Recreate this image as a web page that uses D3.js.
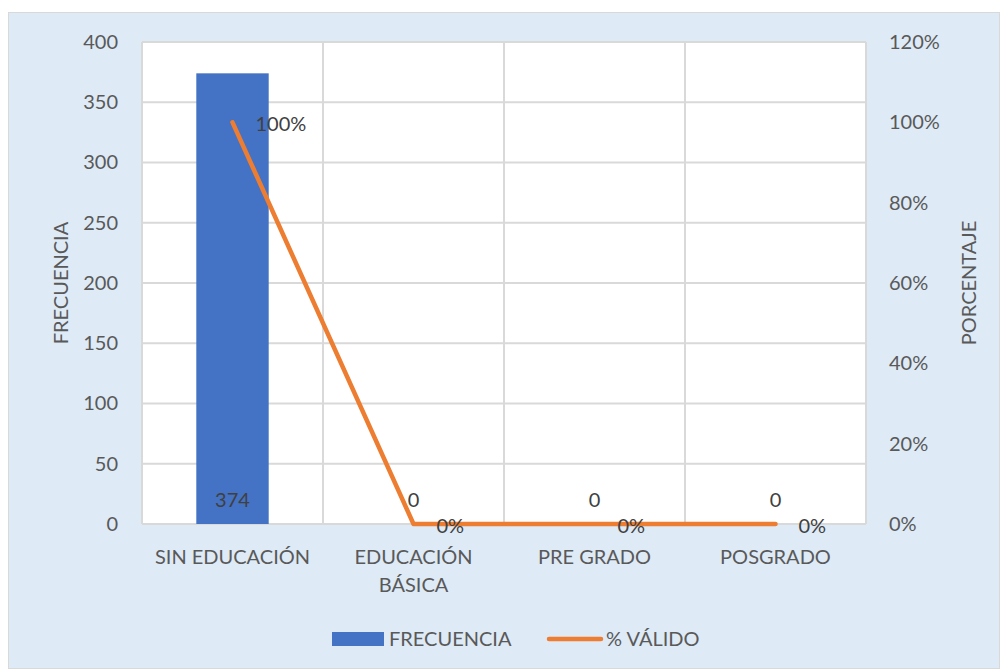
<!DOCTYPE html>
<html>
<head>
<meta charset="utf-8">
<script src="https://cdn.jsdelivr.net/npm/d3@7"></script>
<style>
  body { margin: 0; background: #fff; }
  text { font-family: Lato, "Open Sans", sans-serif; }
</style>
</head>
<body>
<div id="chart"></div>
<script>
const categories = ['SIN EDUCACIÓN', 'EDUCACIÓN BÁSICA', 'PRE GRADO', 'POSGRADO'];
const frecuencia = [374, 0, 0, 0];
const valido = [1.0, 0, 0, 0];
const leftTicks = [0, 50, 100, 150, 200, 250, 300, 350, 400];
const rightTicks = [0, 0.2, 0.4, 0.6, 0.8, 1.0, 1.2];

const width = 1002, height = 671;
const plot = {left: 142, right: 866, top: 42, bottom: 524};
const txt = '#595959', lbl = '#404040';
const blue = '#4472c4', orange = '#ed7d31';
const fs = '20px';

const svg = d3.select('#chart')
  .append('svg')
  .attr('width', width)
  .attr('height', height);

svg.append('rect')
  .attr('x', 8.5).attr('y', 12.5)
  .attr('width', 991).attr('height', 656)
  .attr('fill', '#deeaf6')
  .attr('stroke', '#d9d9d9');

svg.append('rect')
  .attr('x', plot.left).attr('y', plot.top)
  .attr('width', plot.right - plot.left).attr('height', plot.bottom - plot.top)
  .attr('fill', '#fff');

const x = d3.scaleBand()
  .domain(categories)
  .range([plot.left, plot.right])
  .paddingInner(0.6).paddingOuter(0.3);

const xb = d3.scaleBand().domain(categories).range([plot.left, plot.right]);

const y = d3.scaleLinear().domain([0, 400]).range([plot.bottom, plot.top]);
const y2 = d3.scaleLinear().domain([0, 1.2]).range([plot.bottom, plot.top]);

// gridlines
const grid = svg.append('g').attr('stroke', '#d9d9d9').attr('stroke-width', 2);
grid.selectAll('.h')
  .data(leftTicks)
  .enter().append('line')
  .attr('x1', plot.left).attr('x2', plot.right)
  .attr('y1', d => y(d)).attr('y2', d => y(d));
grid.selectAll('.v')
  .data(categories.concat(['end']))
  .enter().append('line')
  .attr('x1', (d, i) => plot.left + i * xb.step())
  .attr('x2', (d, i) => plot.left + i * xb.step())
  .attr('y1', plot.top).attr('y2', plot.bottom);

// bars
svg.selectAll('.bar')
  .data(frecuencia)
  .enter().append('rect')
  .attr('x', (d, i) => x(categories[i]))
  .attr('width', x.bandwidth())
  .attr('y', d => y(d))
  .attr('height', d => y(0) - y(d))
  .attr('fill', blue);

// left axis
const yAxis = svg.append('g')
  .attr('transform', `translate(${plot.left},0)`)
  .call(d3.axisLeft(y).tickValues(leftTicks).tickSize(0).tickPadding(24));
yAxis.select('.domain').remove();
yAxis.selectAll('text').attr('fill', txt).style('font-size', fs);

// right axis
const yAxis2 = svg.append('g')
  .attr('transform', `translate(${plot.right},0)`)
  .call(d3.axisRight(y2).tickValues(rightTicks).tickFormat(d3.format('.0%')).tickSize(0).tickPadding(23));
yAxis2.select('.domain').remove();
yAxis2.selectAll('text').attr('fill', txt).style('font-size', fs);

// category labels
const xl = svg.append('g');
categories.forEach((c, i) => {
  const cx = xb(c) + xb.bandwidth() / 2;
  const words = c === 'EDUCACIÓN BÁSICA' ? ['EDUCACIÓN', 'BÁSICA'] : [c];
  const t = xl.append('text')
    .attr('x', cx).attr('y', 564)
    .attr('text-anchor', 'middle')
    .attr('fill', txt).style('font-size', fs);
  words.forEach((w, k) => {
    t.append('tspan').attr('x', cx).attr('dy', k === 0 ? 0 : 28).text(w);
  });
});

// axis titles
svg.append('text')
  .attr('transform', `translate(68,${(plot.top + plot.bottom) / 2}) rotate(-90)`)
  .attr('text-anchor', 'middle')
  .attr('fill', txt).style('font-size', fs)
  .text('FRECUENCIA');
svg.append('text')
  .attr('transform', `translate(976,${(plot.top + plot.bottom) / 2}) rotate(-90)`)
  .attr('text-anchor', 'middle')
  .attr('fill', txt).style('font-size', fs)
  .text('PORCENTAJE');

// line
const cxOf = i => xb(categories[i]) + xb.bandwidth() / 2;
const line = d3.line()
  .x((d, i) => cxOf(i))
  .y(d => y2(d));
svg.append('path')
  .datum(valido)
  .attr('d', line)
  .attr('fill', 'none')
  .attr('stroke', orange)
  .attr('stroke-width', 4.5)
  .attr('stroke-linecap', 'round')
  .attr('stroke-linejoin', 'round');

// bar labels
svg.selectAll('.blabel')
  .data(frecuencia)
  .enter().append('text')
  .attr('x', (d, i) => cxOf(i))
  .attr('y', 507)
  .attr('text-anchor', 'middle')
  .attr('fill', lbl).style('font-size', fs)
  .text(d => d);

// line labels
svg.selectAll('.llabel')
  .data(valido)
  .enter().append('text')
  .attr('x', (d, i) => cxOf(i) + 23)
  .attr('y', d => y2(d) + 9)
  .attr('fill', lbl).style('font-size', fs)
  .text(d => d3.format('.0%')(d));

// legend
const lg = svg.append('g');
lg.append('rect')
  .attr('x', 332).attr('y', 632).attr('width', 52).attr('height', 14)
  .attr('fill', blue);
lg.append('text')
  .attr('x', 389).attr('y', 646)
  .attr('fill', txt).style('font-size', fs)
  .text('FRECUENCIA');
lg.append('line')
  .attr('x1', 549).attr('x2', 601).attr('y1', 639).attr('y2', 639)
  .attr('stroke', orange).attr('stroke-width', 4.5).attr('stroke-linecap', 'round');
lg.append('text')
  .attr('x', 606).attr('y', 646)
  .attr('fill', txt).style('font-size', fs)
  .text('% VÁLIDO');
</script>
</body>
</html>
